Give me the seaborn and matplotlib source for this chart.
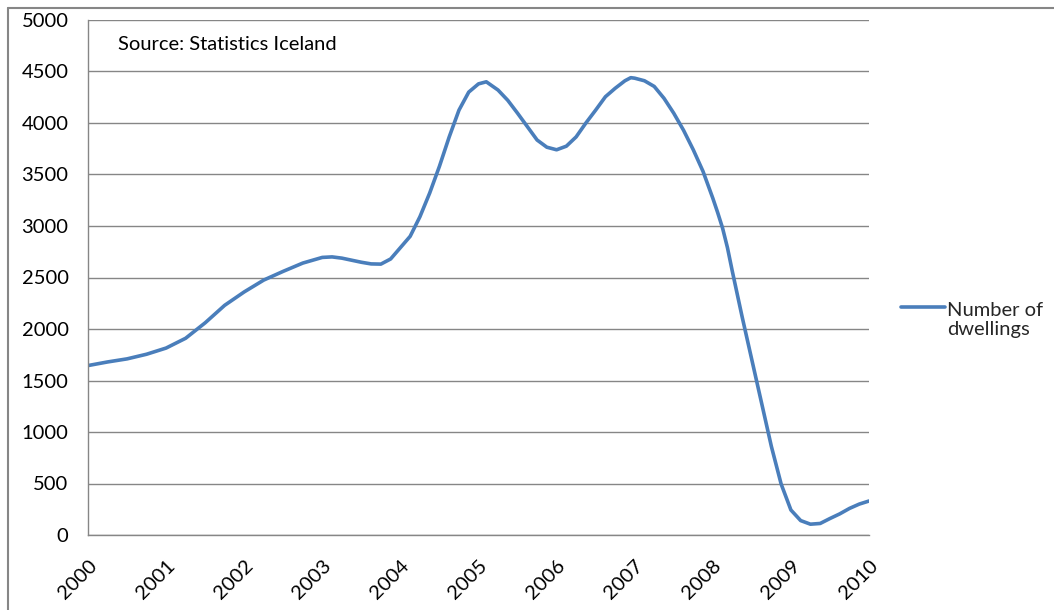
import matplotlib
matplotlib.use("Agg")
import matplotlib.pyplot as plt
from matplotlib.lines import Line2D
from matplotlib.transforms import ScaledTranslation
import numpy as np
import pandas as pd
import seaborn as sns

# Readings of completed dwellings along the smoothed series
years = [2000.0, 2000.25, 2000.5, 2000.75, 2001.0, 2001.25, 2001.5, 2001.75,
         2002.0, 2002.25, 2002.5, 2002.75, 2003.0, 2003.125, 2003.25, 2003.5,
         2003.625, 2003.75, 2003.875, 2004.0, 2004.125, 2004.25, 2004.375,
         2004.5, 2004.625, 2004.75, 2004.875, 2005.0, 2005.1, 2005.25,
         2005.375, 2005.5, 2005.625, 2005.75, 2005.875, 2006.0, 2006.125,
         2006.25, 2006.375, 2006.5, 2006.625, 2006.75, 2006.875, 2006.95,
         2007.0, 2007.125, 2007.25, 2007.375, 2007.5, 2007.625, 2007.75,
         2007.875, 2008.0, 2008.0625, 2008.125, 2008.1875, 2008.25, 2008.375,
         2008.5, 2008.625, 2008.75, 2008.875, 2009.0, 2009.125, 2009.25,
         2009.375, 2009.5, 2009.625, 2009.75, 2009.875, 2010.0]
dwellings = [1645, 1680, 1710, 1755, 1815, 1910, 2060, 2230,
             2360, 2475, 2560, 2640, 2695, 2700, 2688, 2648,
             2632, 2630, 2680, 2790, 2900, 3090, 3320,
             3580, 3865, 4125, 4300, 4380, 4400, 4320,
             4220, 4095, 3965, 3835, 3765, 3740, 3775,
             3865, 4000, 4125, 4255, 4337, 4410, 4440,
             4435, 4410, 4355, 4240, 4095, 3930, 3740,
             3530, 3270, 3130, 2980, 2790, 2560, 2120,
             1700, 1280, 860, 495, 243, 140, 105,
             112, 160, 205, 258, 300, 330]
series_label = "Number of\ndwellings"
source_note = "Source: Statistics Iceland"
year_ticks = list(range(2000, 2011))
value_ticks = list(range(0, 5001, 500))

df = pd.DataFrame({"year": years, "dwellings": dwellings})

sns.set_theme(style="white")
plt.rcParams["font.family"] = ["Lato", "DejaVu Sans"]

grid_grey = "#868686"
line_blue = "#4a7ebb"
fs = 14.5

fig = plt.figure(figsize=(10.54, 6.10), dpi=100)
ax = fig.add_axes([88 / 1054, 1 - 535 / 610, (869 - 88) / 1054, (535 - 20) / 610])

sns.lineplot(data=df, x="year", y="dwellings", ax=ax, color=line_blue,
             linewidth=2.6, label=series_label)
ax.lines[0].set_solid_joinstyle("round")

ax.set_xlim(2000, 2010)
ax.set_ylim(0, 5000)
ax.set_xticks(year_ticks)
ax.set_xticklabels([str(y) for y in year_ticks], rotation=45,
                   ha="right", va="top", rotation_mode="anchor", fontsize=fs)
shift = ScaledTranslation(-4 / 100, 0, fig.dpi_scale_trans)
for lbl in ax.get_xticklabels():
    lbl.set_transform(lbl.get_transform() + shift)
ax.set_yticks(value_ticks)
ax.set_yticklabels([str(v) for v in value_ticks], fontsize=fs)
ax.set_xlabel("")
ax.set_ylabel("")

ax.yaxis.grid(True, color=grid_grey, linewidth=1.0)
ax.xaxis.grid(False)
ax.set_axisbelow(True)
for side in ("top", "right"):
    ax.spines[side].set_visible(False)
for side in ("left", "bottom"):
    ax.spines[side].set_color(grid_grey)
    ax.spines[side].set_linewidth(1.0)
ax.tick_params(axis="x", direction="out", length=5, width=1, color=grid_grey,
               pad=11, labelcolor="black")
ax.tick_params(axis="y", direction="out", length=4, width=1, color=grid_grey,
               pad=10, labelcolor="black")

ax.text(118 / 1054, 1 - 45 / 610, source_note, transform=fig.transFigure,
        fontsize=fs, ha="left", va="center", color="black")

leg = ax.legend(loc="center left", bbox_to_anchor=(893 / 1054, 1 - 320 / 610),
                bbox_transform=fig.transFigure, frameon=False, fontsize=fs,
                handlelength=2.2, handletextpad=0.1, borderaxespad=0)
for t in leg.get_texts():
    t.set_linespacing(1.2)
# Align the legend key with the first line of its two-line label
key = leg.get_lines()[0]
key.set_ydata(np.asarray(key.get_ydata()) + 9.5)

# Chart frame (top and left edges)
fig.add_artist(Line2D([8 / 1054, 8 / 1054], [0, 1 - 8 / 610],
                      transform=fig.transFigure, color=grid_grey, linewidth=1.5))
fig.add_artist(Line2D([8 / 1054, 1], [1 - 8 / 610, 1 - 8 / 610],
                      transform=fig.transFigure, color=grid_grey, linewidth=1.5))

fig.savefig("out.png", dpi=100)
